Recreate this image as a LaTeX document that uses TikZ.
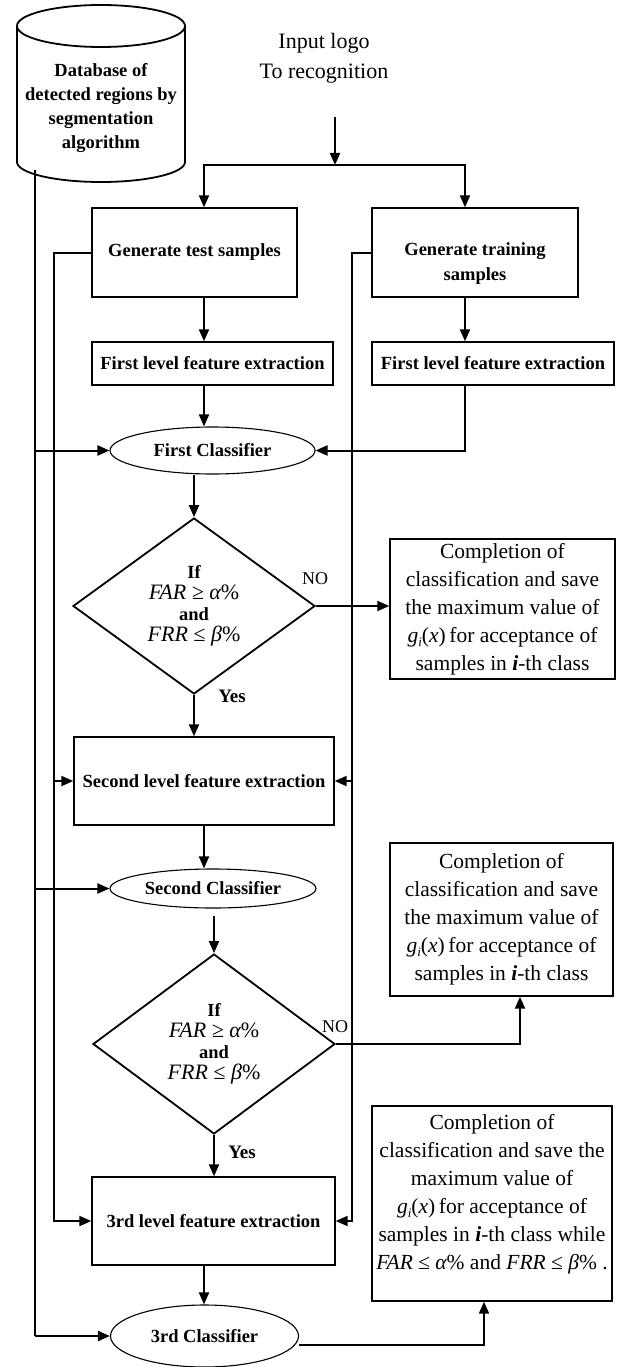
\documentclass[tikz,border=0pt]{standalone}
\usepackage{fontspec}
\setmainfont{Liberation Serif}
\usetikzlibrary{arrows.meta,shapes.geometric}
\newcommand\txtshift[2]{\raisebox{#1}[\height][\depth]{\begin{tabular}{@{}c@{}}#2\end{tabular}}}
\newcommand\gix{{\itshape g\raisebox{-4pt}{\fontsize{13}{13}\selectfont i}}(\textit{x})\,}
\newcommand\itfnt{\fontsize{22}{21}\selectfont\mdseries\itshape}
\newcommand\ithclass{samples in \textbf{\textit{i}}-th class}
\begin{document}
\begin{tikzpicture}[x=1pt,y=-1pt,
  arr/.style={-{Triangle[length=12pt,width=10pt]}, line width=2pt},
  ln/.style={line width=2pt},
  bfnt/.style={font=\fontsize{18.5}{25}\selectfont\bfseries},
  box/.style={draw, line width=1.4pt, inner sep=0pt, align=center, bfnt},
  cbox/.style={draw, line width=1.4pt, inner sep=0pt, align=center, font=\fontsize{21.5}{28}\selectfont},
  ell/.style={ellipse, draw, line width=1.1pt, inner sep=0pt, bfnt},
  dia/.style={diamond, draw, line width=1.8pt, inner sep=0pt, aspect=1.375, align=center,
              font=\fontsize{18.5}{21}\selectfont\bfseries},
  lab/.style={inner sep=0pt, font=\fontsize{18}{20}\selectfont},
  ylab/.style={inner sep=0pt, font=\fontsize{19}{20}\selectfont\bfseries}
]
\useasboundingbox (0,0) rectangle (616,1367);

% database cylinder
\draw[line width=1.8pt] (101,26) ellipse [x radius=84pt, y radius=21pt];
\draw[line width=1.8pt] (17,26) -- (17,162) arc[start angle=180, end angle=360, x radius=84pt, y radius=20pt] -- (185,26);
\node[align=center, inner sep=0pt, font=\fontsize{18.5}{24.3}\selectfont\bfseries] (db) at (101,108)
  {Database of\\detected regions by\\segmentation\\algorithm};

% input
\node[align=center, inner sep=0pt, font=\fontsize{22}{30}\selectfont] (inp) at (324,58) {Input logo\\To recognition};

% boxes
\node[box, minimum width=205pt, minimum height=89pt] (test) at (194.5,252.5) {Generate test samples};
\node[box, minimum width=206pt, minimum height=89pt] (train) at (475,252.5) {\txtshift{-10.5pt}{Generate training\\samples}};
\node[box, minimum width=241pt, minimum height=43pt] (fl) at (212.5,363.5) {First level feature extraction};
\node[box, minimum width=242pt, minimum height=43pt] (fr) at (493,363.5) {First level feature extraction};
\node[ell, minimum width=205pt, minimum height=47pt] (e1) at (212.5,450.5) {First Classifier};
\node[dia, minimum width=242pt, minimum height=176pt] (d1) at (194,606)
  {If\\{\itfnt FAR ≥ α\upshape\%}\\and\\{\itfnt FRR ≤ β\upshape\%}};
\node[cbox, minimum width=225pt, minimum height=140pt] (c1) at (502.5,609)
  {Completion of\\classification and save\\the maximum value of\\\gix for acceptance of\\\ithclass};
\node[box, minimum width=260pt, minimum height=88pt] (s2) at (204,781) {Second level feature extraction};
\node[ell, minimum width=206pt, minimum height=39pt] (e2) at (213,888.5) {Second Classifier};
\node[dia, minimum width=242pt, minimum height=180pt] (d2) at (214,1044)
  {If\\{\itfnt FAR ≥ α\upshape\%}\\and\\{\itfnt FRR ≤ β\upshape\%}};
\node[cbox, minimum width=223pt, minimum height=153pt] (c2) at (501.5,919.5)
  {Completion of\\classification and save\\the maximum value of\\\gix for acceptance of\\\ithclass};
\node[box, minimum width=243pt, minimum height=88pt] (t3) at (213.5,1221) {3rd level feature extraction};
\node[ell, minimum width=188pt, minimum height=62pt] (e3) at (204.5,1336) {3rd Classifier};
\node[cbox, minimum width=240pt, minimum height=195pt] (c3) at (492,1203.5)
  {\txtshift{10pt}{Completion of\\classification and save the\\maximum value of\\\gix for acceptance of\\\ithclass{} while\\{\itshape FAR} ≤ {\itshape α}\% and {\itshape FRR} ≤ {\itshape β}\% .}};

% labels
\node[lab] (no1) at (315,579) {NO};
\node[ylab] (yes1) at (232,696) {Yes};
\node[lab] (no2) at (335,1027) {NO};
\node[ylab] (yes2) at (242,1152) {Yes};

% helper coordinates
\coordinate (colO) at (35,0);
\coordinate (colI) at (54,0);
\coordinate (colR) at (352,0);
\coordinate (colA) at (204,0);
\coordinate (colB) at (465,0);
\coordinate (inA) at (335,117);
\coordinate (split) at (335,165);
\coordinate (dbout) at (35,170);

% connectors
\draw[arr] (inA) -- (split);
\draw[arr] (split) -| (colA |- test.north);
\draw[arr] (split) -| (colB |- train.north);
\draw[arr] (colA |- test.south) -- (colA |- fl.north);
\draw[arr] (colB |- train.south) -- (colB |- fr.north);
\draw[arr] (colA |- fl.south) -- (colA |- e1.north);
\draw[arr] (colB |- fr.south) |- (e1.east);
\draw[arr] (e1.south -| d1.north) -- (d1.north);
\draw[arr] (d1.east) -- (d1.east -| c1.west);
\draw[arr] (d1.south) -- (d1.south |- s2.north);
\draw[arr] (s2.south) -- (s2.south |- e2.north);
\draw[arr] (d2.north |- e2.south) ++(0,7) -- (d2.north);
\draw[arr] (d2.east) -| ([xshift=18.5pt]c2.south);
\draw[arr] (d2.south) -- (d2.south |- t3.north);
\draw[arr] (colA |- t3.south) -- (colA |- e3.north);
\draw[arr] ([yshift=-9pt]e3.east) -| ([xshift=-8pt]c3.south);

\draw[ln] (dbout) -- (colO |- e3.west);
\draw[arr] (colO |- e3.west) -- (e3.west);
\draw[arr] (colO |- e1.west) -- (e1.west);
\draw[arr] (colO |- e2.west) -- (e2.west);
\draw[arr] (test.west) -| (colI |- t3.west) -- (t3.west);
\draw[arr] (colI |- s2.west) -- (s2.west);
\draw[arr] (train.west) -| (colR |- t3.east) -- (t3.east);
\draw[arr] (colR |- s2.east) -- (s2.east);
\end{tikzpicture}
\end{document}
